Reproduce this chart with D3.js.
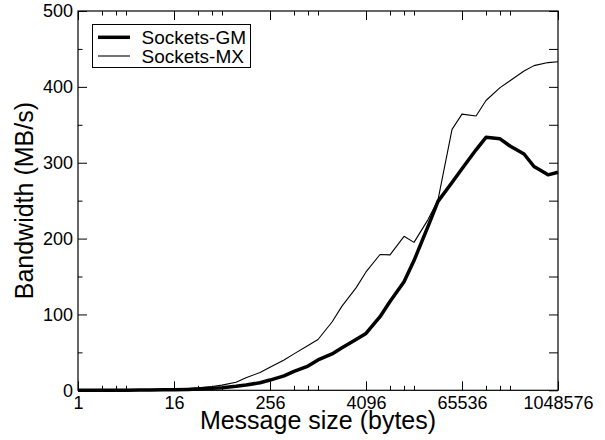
<!DOCTYPE html>
<html>
<head>
<meta charset="utf-8">
<script src="https://cdn.jsdelivr.net/npm/d3@7"></script>
<style>
body { margin: 0; background: #fff; }
svg { font-family: "Liberation Sans", Arial, Helvetica, sans-serif; }
</style>
</head>
<body>
<div class="chart"></div>
<script>
// message sizes in bytes (2^k and 1.5*2^k)
const sizes = [1, 2, 3, 4, 6, 8, 12, 16, 24, 32, 48, 64, 96, 128, 192, 256, 384, 512, 768, 1024,
  1536, 2048, 3072, 4096, 6144, 8192, 12288, 16384, 24576, 32768, 49152, 65536, 98304, 131072,
  196608, 262144, 393216, 524288, 786432, 1048576]

const gmBandwidth = [0.05, 0.1, 0.15, 0.2, 0.3, 0.4, 0.6, 0.8, 1.2, 1.7, 2.6, 3.5, 5.2, 7, 10, 13.5,
  19, 25, 32, 40, 48, 56, 67, 75, 97, 117, 143, 171, 216, 249, 274, 292, 317, 333.5,
  331.5, 322, 311.5, 295, 284, 287.5]

const mxBandwidth = [0.1, 0.2, 0.3, 0.4, 0.6, 0.8, 1.2, 1.6, 2.4, 3.3, 5, 6.8, 10.5, 16.5, 23.5, 30.5,
  40, 48, 59, 67, 90, 111, 135, 156, 179, 178.5, 203, 195, 225, 251, 344, 364, 361.5, 382,
  399, 408, 421, 428, 432, 433]

const seriesNames = ['Sockets-GM', 'Sockets-MX']
const xMajorTicks = [1, 16, 256, 4096, 65536, 1048576]
const yMajorTicks = [0, 100, 200, 300, 400, 500]

const W = 605, H = 440
const plotL = 78, plotR = 558, plotT = 11, plotB = 390.3

let svg = d3.select('.chart')
  .append('svg')
  .attr('width', W)
  .attr('height', H)

let x = d3.scaleLog().base(2).domain([1, 1048576]).range([plotL, plotR])
let y = d3.scaleLinear().domain([0, 500]).range([plotB, plotT])

// minor ticks: 2x, 3x, 4x of each major tick
let xMinor = []
xMajorTicks.slice(0, -1).forEach(m => [2, 3, 4].forEach(k => xMinor.push(m * k)))
let yMinor = d3.range(50, 500, 100)
let yAll = d3.range(0, 501, 50)

function noDomain(g) {
  g.select('.domain').remove()
  g.selectAll('line').attr('stroke', '#000').attr('stroke-width', 1)
}

// bottom
svg.append('g')
  .attr('transform', `translate(0,${plotB})`)
  .call(d3.axisBottom(x).tickValues(xMajorTicks).tickFormat(d3.format('d')).tickSize(-9).tickSizeOuter(0).tickPadding(6))
  .call(noDomain)
  .selectAll('text').attr('font-size', 18).attr('fill', '#000')
svg.append('g')
  .attr('transform', `translate(0,${plotB})`)
  .call(d3.axisBottom(x).tickValues(xMinor).tickFormat('').tickSize(-4.5).tickSizeOuter(0))
  .call(noDomain)

// top
svg.append('g')
  .attr('transform', `translate(0,${plotT})`)
  .call(d3.axisTop(x).tickValues(xMajorTicks).tickFormat('').tickSize(-9).tickSizeOuter(0))
  .call(noDomain)
svg.append('g')
  .attr('transform', `translate(0,${plotT})`)
  .call(d3.axisTop(x).tickValues(xMinor).tickFormat('').tickSize(-4.5).tickSizeOuter(0))
  .call(noDomain)

// left
svg.append('g')
  .attr('transform', `translate(${plotL},0)`)
  .call(d3.axisLeft(y).tickValues(yMajorTicks).tickSize(-9).tickSizeOuter(0).tickPadding(5))
  .call(noDomain)
  .selectAll('text').attr('font-size', 18).attr('fill', '#000')
svg.append('g')
  .attr('transform', `translate(${plotL},0)`)
  .call(d3.axisLeft(y).tickValues(yMinor).tickFormat('').tickSize(-4.5).tickSizeOuter(0))
  .call(noDomain)

// right (all ticks same length)
svg.append('g')
  .attr('transform', `translate(${plotR},0)`)
  .call(d3.axisRight(y).tickValues(yAll).tickFormat('').tickSize(-9).tickSizeOuter(0))
  .call(noDomain)

// frame
svg.append('rect')
  .attr('x', plotL).attr('y', plotT)
  .attr('width', plotR - plotL).attr('height', plotB - plotT)
  .attr('fill', 'none').attr('stroke', '#000').attr('stroke-width', 1.2)

// curves
let line = d3.line()
  .x(d => x(d[0]))
  .y(d => y(d[1]))

svg.append('path')
  .datum(sizes.map((s, i) => [s, mxBandwidth[i]]))
  .attr('d', line)
  .attr('fill', 'none')
  .attr('stroke', '#000')
  .attr('stroke-width', 1.1)
  .attr('stroke-linejoin', 'round')

svg.append('path')
  .datum(sizes.map((s, i) => [s, gmBandwidth[i]]))
  .attr('d', line)
  .attr('fill', 'none')
  .attr('stroke', '#000')
  .attr('stroke-width', 3.5)
  .attr('stroke-linejoin', 'round')

// axis titles
svg.append('text')
  .attr('x', (plotL + plotR) / 2)
  .attr('y', 429)
  .attr('text-anchor', 'middle')
  .attr('font-size', 25)
  .text('Message size (bytes)')

svg.append('text')
  .attr('transform', `translate(33,${(plotT + plotB) / 2}) rotate(-90)`)
  .attr('text-anchor', 'middle')
  .attr('font-size', 25)
  .text('Bandwidth (MB/s)')

// legend
let legend = svg.append('g')
legend.append('rect')
  .attr('x', 92.5).attr('y', 24.5)
  .attr('width', 158).attr('height', 43)
  .attr('fill', '#fff').attr('stroke', '#000').attr('stroke-width', 1)

let legendWidths = [3.5, 1.1]
let legendY = [37.3, 56]
seriesNames.forEach((name, i) => {
  legend.append('line')
    .attr('x1', 98).attr('x2', 130)
    .attr('y1', legendY[i]).attr('y2', legendY[i])
    .attr('stroke', '#000')
    .attr('stroke-width', legendWidths[i])
  legend.append('text')
    .attr('x', 141.5)
    .attr('y', legendY[i] + 6.8)
    .attr('font-size', 19)
    .text(name)
})
</script>
</body>
</html>
